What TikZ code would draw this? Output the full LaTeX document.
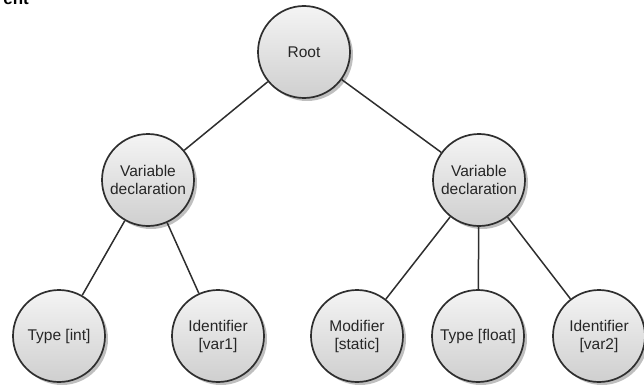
\documentclass[tikz,border=0pt]{standalone}
\usepackage{fontspec}
\setmainfont{Liberation Sans}
\usetikzlibrary{shadows}
\definecolor{topc}{HTML}{F4F4F4}
\definecolor{botc}{HTML}{CFCFCF}
\definecolor{edge}{HTML}{2E2E2E}
\definecolor{txt}{HTML}{262626}
\tikzset{
  treenode/.style={circle, minimum size=92pt, inner sep=0pt, draw=edge, line width=1.7pt,
    top color=topc, bottom color=botc, align=center, text=txt,
    font=\fontsize{15.5}{18}\selectfont,
    drop shadow={shadow xshift=3pt, shadow yshift=-3pt, fill=black, opacity=0.25}},
  link/.style={draw=edge, line width=1.5pt}
}
\begin{document}
\begin{tikzpicture}[x=1pt, y=-1pt]
\useasboundingbox (0,0) rectangle (644,385);
\clip (0,0) rectangle (644,385);
\node[anchor=base east, font=\bfseries\fontsize{17}{20}\selectfont, inner sep=0pt] (hdr) at (29,5) {ent};
\node[treenode] (root) at (304,52) {Root};
\node[treenode] (vd1) at (148,180) {Variable\\declaration};
\node[treenode] (vd2) at (479,180) {Variable\\declaration};
\node[treenode] (t1) at (59,336) {Type [int]};
\node[treenode] (i1) at (218,336) {Identifier\\{}[var1]};
\node[treenode] (m2) at (357,336) {Modifier\\{}[static]};
\node[treenode] (t2) at (478,336) {Type [float]};
\node[treenode] (i2) at (599,336) {Identifier\\{}[var2]};
\path[link] (root) -- (vd1);
\path[link] (root) -- (vd2);
\path[link] (vd1) -- (t1);
\path[link] (vd1) -- (i1);
\path[link] (vd2) -- (m2);
\path[link] (vd2) -- (t2);
\path[link] (vd2) -- (i2);
\end{tikzpicture}
\end{document}
